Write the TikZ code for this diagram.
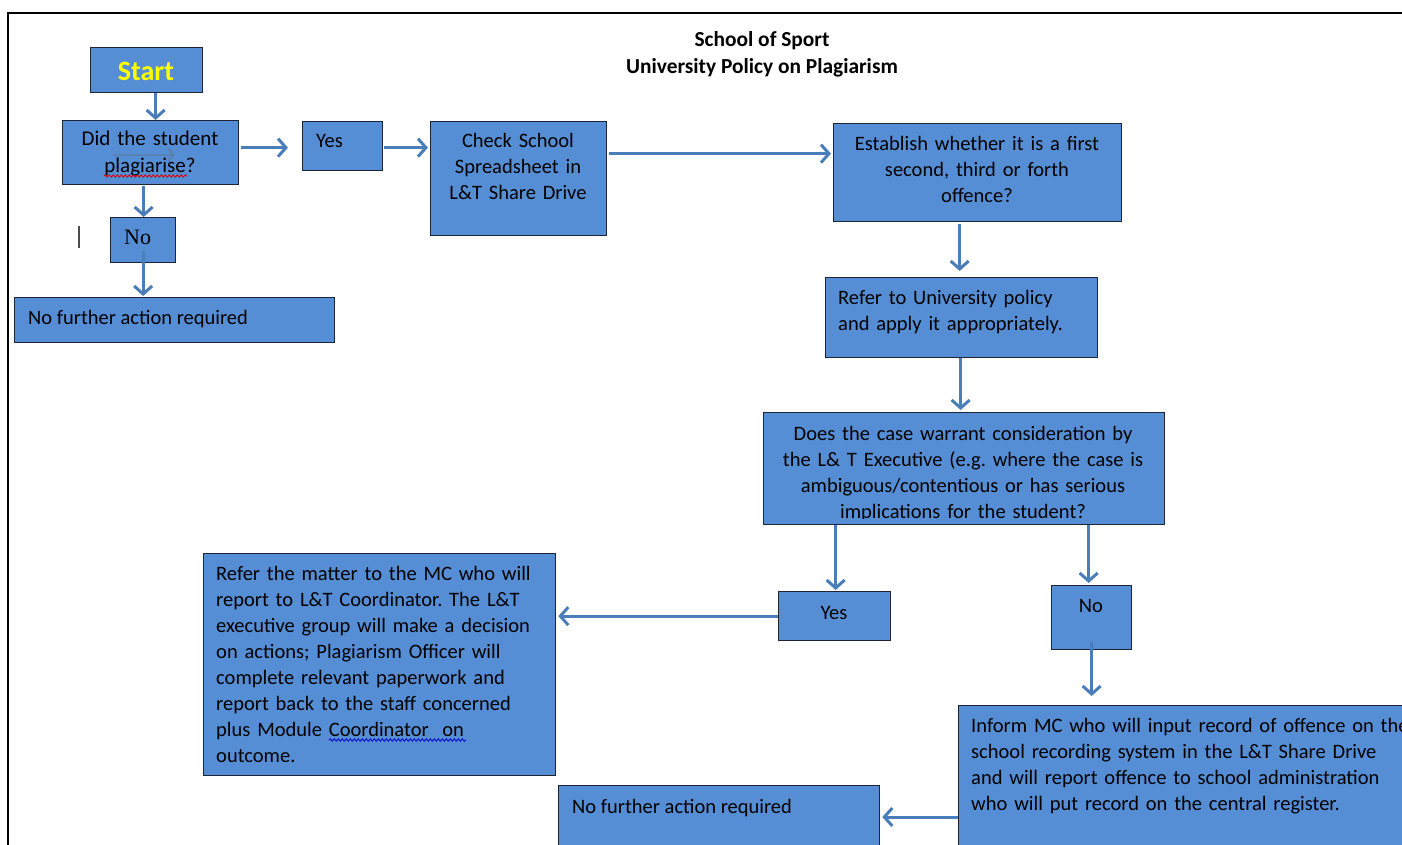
\documentclass[tikz,border=0pt]{standalone}
\usepackage{fontspec}
\setmainfont{Carlito}
\newfontfamily\serifno{Liberation Serif}
\usetikzlibrary{arrows.meta,decorations.pathmorphing}
\definecolor{boxfill}{RGB}{85,142,213}
\definecolor{boxline}{RGB}{28,36,54}
\definecolor{arrowc}{RGB}{74,126,187}
\definecolor{startyellow}{RGB}{255,255,0}
\tikzset{
  box/.style={draw=boxline, fill=boxfill, line width=1.3pt, inner sep=0pt, anchor=north west, rectangle},
  txt/.style={inner sep=0pt, font=\fontsize{20.5}{26}\selectfont},
  ttl/.style={inner sep=0pt, anchor=base, font=\fontsize{21.4}{27}\selectfont\bfseries},
  arr/.style={draw=arrowc, line width=3pt, -{Straight Barb[length=8pt,width=18pt]}},
  squig/.style={line width=0.8pt, decorate, decoration={snake, segment length=4pt, amplitude=1.2pt}},
}
\begin{document}
\frenchspacing
\begin{tikzpicture}[x=1pt,y=-1pt]
\useasboundingbox (0,0) rectangle (1402,845);
\clip (0,0) rectangle (1402,845);
% frame
\draw[line width=2pt,black] (8,845) -- (8,13) -- (1410,13);
% title
\node[ttl] (title1) at (762,47) {School of Sport};
\node[ttl] (title2) at (762,74) {University Policy on Plagiarism};
% boxes
\node[box, minimum width=112, minimum height=45] (start) at (90,47) {};
\node[box, minimum width=176, minimum height=64] (did) at (62,120) {};
\node[box, minimum width=80, minimum height=49] (yes1) at (302,121) {};
\node[box, minimum width=176, minimum height=114] (check) at (430,121) {};
\node[box, minimum width=288, minimum height=98] (est) at (833,123) {};
\node[box, minimum width=65, minimum height=45] (no1) at (110,217) {};
\node[box, minimum width=320, minimum height=45] (nf1) at (14,297) {};
\node[box, minimum width=272, minimum height=80] (refer) at (825,277) {};
\node[box, minimum width=401, minimum height=112] (does) at (763,412) {};
\node[box, minimum width=112, minimum height=49] (yes2) at (778,591) {};
\node[box, minimum width=80, minimum height=64] (no2) at (1051,585) {};
\node[box, minimum width=352, minimum height=222] (rm) at (203,553) {};
\node[box, minimum width=470, minimum height=170] (inform) at (958,705) {};
\node[box, minimum width=321, minimum height=80] (nf2) at (558,785) {};
% texts
\node[inner sep=0pt, anchor=base, font=\fontsize{28}{30}\selectfont\bfseries, text=startyellow] (tstart) at (146,81) {Start};
\node[txt, anchor=base, text width=176, align=center, font=\fontsize{21}{27}\selectfont] (tdid) at (150,146) {Did the student\\plagiarise?};
\node[txt, anchor=base west] (tyes1) at (316,148) {Yes};
\node[txt, anchor=base, text width=176, align=center] (tcheck) at (518,148) {Check School\\Spreadsheet in\\L\&T Share Drive};
\node[txt, anchor=base, text width=288, align=center] (test) at (977,151) {Establish whether it is a first\\second, third or forth\\offence?};
\node[inner sep=0pt, anchor=base west, font=\fontsize{22}{26}\serifno] (tno1) at (124,244) {No};
\node[txt, anchor=base west] (tnf1) at (28,324) {No further action required};
\node[txt, anchor=base west, text width=260, align=left] (trefer) at (838,304) {Refer to University policy\\and apply it appropriately.};
\begin{scope}
\clip (does.north west) rectangle ([yshift=7]does.south east);
\node[txt, anchor=base, text width=401, align=center] (tdoes) at (963,440) {Does the case warrant consideration by\\the L\& T Executive (e.g. where the case is\\ambiguous/contentious or has serious\\implications for the student?};
\end{scope}
\node[txt, anchor=base] (tyes2) at (834,619) {Yes};
\node[txt, anchor=base] (tno2) at (1091,612) {No};
\node[txt, anchor=base west, text width=345, align=left] (trm) at (216,580) {Refer the matter to the MC who will\\report to L\&T Coordinator. The L\&T\\executive group will make a decision\\on actions; Plagiarism Officer will\\complete relevant paperwork and\\report back to the staff concerned\\plus Module Coordinator\ \ on\\outcome.};
\node[txt, anchor=base west, text width=460, align=left] (tinform) at (971,732) {Inform MC who will input record of offence on the\\school recording system in the L\&T Share Drive\\and will report offence to school administration\\who will put record on the central register.};
\node[txt, anchor=base west] (tnf2) at (572,813) {No further action required};
% spell-check marks and stray marks
\draw[squig, red!85!black] (104,176) -- (187,176);
\draw[squig, blue!80!black] (329,740) -- (466,740);
\draw[line width=1.2pt, black!70] (79,226) -- (79,248);
\draw[arrowc!70!gray, opacity=0.7, line width=2.5pt, -{Straight Barb[length=5pt,width=12pt]}] (113,155) -- (175,155);
% connectors
\draw[arr] ([xshift=9]start.south) -- ([xshift=5]did.north);
\draw[arr, shorten >=14pt] ([yshift=5,xshift=2]did.east) -- ([yshift=5]did.east -| yes1.west);
\draw[arr, shorten >=2pt] ([yshift=-1.5,xshift=1]yes1.east) -- ([yshift=-1.5]yes1.east -| check.west);
\draw[arr, shorten >=2pt] ([yshift=25,xshift=2]check.east) -- ([yshift=25]check.east -| est.west);
\draw[arr] ([xshift=-7,yshift=-1]did.south) -- ([xshift=-7]did.south |- no1.north);
\draw[arr, shorten >=1pt] ([yshift=12]no1.south) -- (no1.south |- nf1.north);
\draw[arr, shorten >=6pt] ([xshift=-18,yshift=-2]est.south) -- ([xshift=-18]est.south |- refer.north);
\draw[arr, shorten >=2pt] ([xshift=-1]refer.south) -- ([xshift=-1]refer.south |- does.north);
\draw[arr, shorten >=1pt] ([xshift=-128.5]does.south) -- ([xshift=-128.5]does.south |- yes2.north);
\draw[arr, shorten >=2pt] ([xshift=124.5]does.south) -- ([xshift=124.5]does.south |- no2.north);
\draw[arr, shorten >=2pt] (yes2.west) -- (yes2.west -| rm.east);
\draw[arr, shorten >=1pt] ([yshift=8]no2.south) -- ([yshift=8]no2.south |- inform.north);
\draw[arr, shorten >=2pt] ([yshift=-112]inform.north west) -- ([yshift=-112]inform.north west -| nf2.east);
\end{tikzpicture}
\end{document}
